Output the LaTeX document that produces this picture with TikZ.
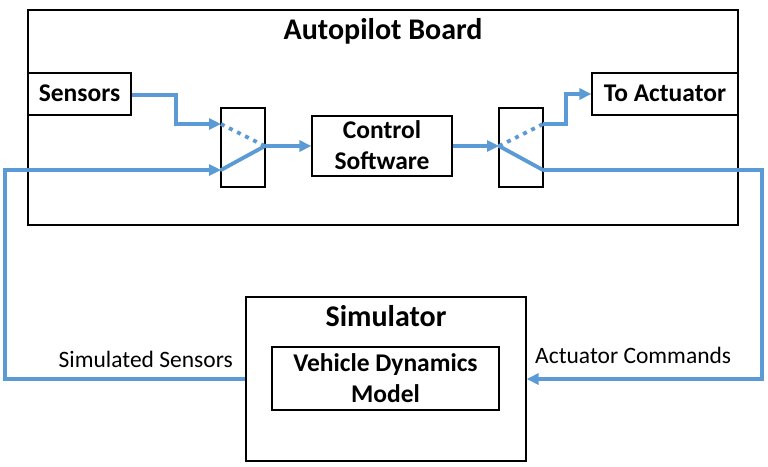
\documentclass[tikz,border=0pt]{standalone}
\usepackage{fontspec}
\setmainfont{Carlito}
\usetikzlibrary{arrows.meta}
\definecolor{wire}{HTML}{5B9BD5}
\begin{document}
\begin{tikzpicture}[x=1pt,y=-1pt,
  box/.style={draw=black,line width=1.2pt,rectangle,inner sep=0pt,fill=none},
  wireline/.style={draw=wire,line width=3.8pt},
  wirearrow/.style={wireline,-{Triangle[length=12pt,width=11pt]}},
  wiredot/.style={draw=wire,line width=3.8pt,dash pattern=on 4pt off 5pt},
  bigtitle/.style={font=\bfseries\fontsize{30}{36}\selectfont,inner sep=0pt},
  boxtext/.style={font=\bfseries\fontsize{25.5}{31}\selectfont,align=center,inner sep=0pt},
  lbl/.style={font=\fontsize{23.5}{28}\selectfont,inner sep=0pt}]
\useasboundingbox[fill=white] (0,0) rectangle (768,466);
% boxes
\node[box,minimum width=710pt,minimum height=215pt] (board) at (383,117.5) {};
\node[bigtitle,anchor=base] (boardtitle) at (383,39) {Autopilot Board};
\node[box,minimum width=103pt,minimum height=42pt] (sensors) at (79.5,94) {};
\node[boxtext,anchor=base] (sensorst) at (79.5,101) {Sensors};
\node[box,minimum width=44pt,minimum height=79pt] (sw1) at (243,147.5) {};
\node[box,minimum width=140pt,minimum height=60pt] (ctrl) at (382,146) {};
\node[boxtext] (ctrlt) at (382,145) {Control\\Software};
\node[box,minimum width=44pt,minimum height=79pt] (sw2) at (521,147.5) {};
\node[box,minimum width=146pt,minimum height=42pt] (act) at (665,94) {};
\node[boxtext,anchor=base] (actt) at (665,101) {To Actuator};
\node[box,minimum width=280pt,minimum height=164pt] (sim) at (386,379) {};
\node[bigtitle,anchor=base] (simtitle) at (386,326) {Simulator};
\node[box,minimum width=227pt,minimum height=63pt] (vdm) at (385.5,378.5) {};
\node[boxtext] (vdmt) at (385.5,378) {Vehicle Dynamics\\Model};
% switch contact points
\coordinate (s1top) at (221,124);
\coordinate (s1bot) at (221,170);
\coordinate (s1out) at (265,146);
\coordinate (s2in) at (499,146);
\coordinate (s2top) at (543,124);
\coordinate (s2bot) at (543,170);
% wires
\draw[wirearrow] (sensors.east |- 0,95) -- (176,95) -- (176,124) -- (s1top);
\draw[wiredot] (s1top) -- (s1out);
\draw[wireline,line cap=round] (s1bot) -- (s1out);
\draw[wirearrow] (s1out) -- (ctrl.west);
\draw[wirearrow] (sim.west) -- (5,379) -- (5,170) -- (s1bot);
\draw[wirearrow] (ctrl.east) -- (s2in);
\draw[wiredot] (s2in) -- (s2top);
\draw[wireline,line cap=round] (s2in) -- (s2bot);
\draw[wirearrow] (s2top) -- (566,124) -- (566,94) -- (act.west);
\draw[wirearrow] (s2bot) -- (762,170) -- (762,379) -- (sim.east);
% labels
\node[lbl,anchor=base east] (simsens) at (233,367) {Simulated Sensors};
\node[lbl,anchor=base west] (actcmd) at (535,363) {Actuator Commands};
\end{tikzpicture}
\end{document}
